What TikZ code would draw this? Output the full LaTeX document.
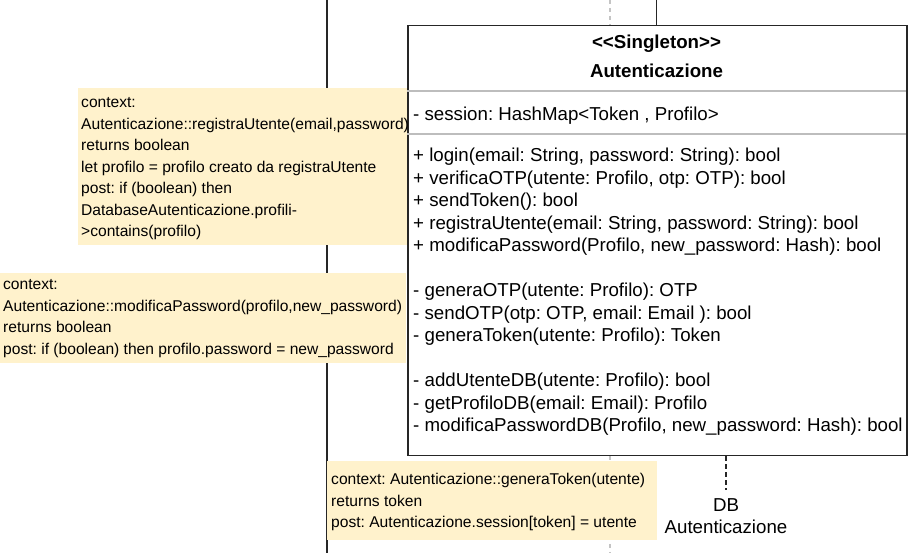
\documentclass[tikz,border=0pt]{standalone}
\usepackage{fontspec}
\setmainfont{Liberation Sans}
\frenchspacing
\definecolor{notefill}{HTML}{FFF2CC}
\definecolor{sepgray}{HTML}{BDBDBD}
\definecolor{lifegray}{HTML}{C4C4C4}
\tikzset{
  lifeline/.style={draw=black!85, line width=1.8pt},
  graylife/.style={draw=lifegray, line width=1.2pt, dash pattern=on 4pt off 4pt},
  dblife/.style={draw=black!85, line width=1.8pt, dash pattern=on 5pt off 3pt},
  classbox/.style={draw=black!85, line width=1.5pt, fill=white, rectangle, inner sep=0pt, anchor=north west},
  sepline/.style={draw=sepgray, line width=1.3pt},
  notebox/.style={fill=notefill, draw=none, rectangle, inner sep=0pt, anchor=north west},
  notetext/.style={anchor=north west, inner sep=0pt, align=left, font=\fontsize{15.6}{21.5}\selectfont\frenchspacing},
  classtext/.style={inner sep=0pt, font=\fontsize{18.7}{22.5}\selectfont\frenchspacing},
}
\begin{document}
\begin{tikzpicture}[x=1pt,y=-1pt]
\useasboundingbox[fill=white] (0,0) rectangle (922,553);

% lifelines (behind)
\coordinate (g1) at (610,0);
\coordinate (g2) at (610,553);
\coordinate (l1) at (327,0);
\coordinate (l2) at (327,553);
\coordinate (c1) at (656.5,0);
\draw[graylife] (g1) -- (g2);
\draw[lifeline] (l1) -- (l2);

% class box
\node[classbox, minimum width=499pt, minimum height=430pt] (cls) at (407,25) {};
\draw[lifeline] (c1) -- (c1 |- cls.north);
\coordinate (s1l) at (407,91);
\coordinate (s1r) at (906,91);
\coordinate (s2l) at (407,134);
\coordinate (s2r) at (906,134);
\draw[sepline] (s1l) -- (s1r);
\draw[sepline] (s2l) -- (s2r);
\node[classtext, anchor=base] (stereo) at (656.5,48.5) {\textbf{<\kern0pt<Singleton>\kern0pt>}};
\node[classtext, anchor=base] (cname) at (656.5,77.5) {\textbf{Autenticazione}};
\node[classtext, anchor=base west] (attr) at (413,120.5) {- session: HashMap<Token , Profilo>};
\node[classtext, anchor=north west, align=left] (ops) at (413,145.75) {\strut+ login(email: String, password: String): bool\\
+ verificaOTP(utente: Profilo, otp: OTP): bool\\
+ sendToken(): bool\\
+ registraUtente(email: String, password: String): bool\\
+ modificaPassword(Profilo, new\_password: Hash): bool\\
\mbox{}\\
- generaOTP(utente: Profilo): OTP\\
- sendOTP(otp: OTP, email: Email ): bool\\
- generaToken(utente: Profilo): Token\\
\mbox{}\\
- addUtenteDB(utente: Profilo): bool\\
- getProfiloDB(email: Email): Profilo\\
- modificaPasswordDB(Profilo, new\_password: Hash): bool};

% DB lifeline and label
\node[classtext, anchor=base] (db1) at (726,511.7) {DB};
\node[classtext, anchor=base] (db2) at (726,533.5) {Autenticazione};
\coordinate (dbtop) at (726,490);
\draw[dblife] (cls.south -| dbtop) -- (dbtop);

% notes
\node[notebox, minimum width=329pt, minimum height=157pt] (n1) at (78,88) {};
\node[notetext] (n1t) at (81,92.35) {\strut context:\\
Autenticazione::registraUtente(email,password)\\
returns boolean\\
let profilo = profilo creato da registraUtente\\
post: if (boolean) then\\
DatabaseAutenticazione.profili-\\
>contains(profilo)};

\node[notebox, minimum width=406pt, minimum height=90pt] (n2) at (0,273) {};
\node[notetext] (n2t) at (3,274.4) {\strut context:\\
Autenticazione::modificaPassword(profilo,new\_password)\\
returns boolean\\
post: if (boolean) then profilo.password = new\_password};

\node[notebox, minimum width=330pt, minimum height=79pt] (n3) at (327,461) {};
\node[notetext] (n3t) at (331,469.35) {\strut context: Autenticazione::generaToken(utente)\\
returns token\\
post: Autenticazione.session[token] = utente};
\end{tikzpicture}
\end{document}
